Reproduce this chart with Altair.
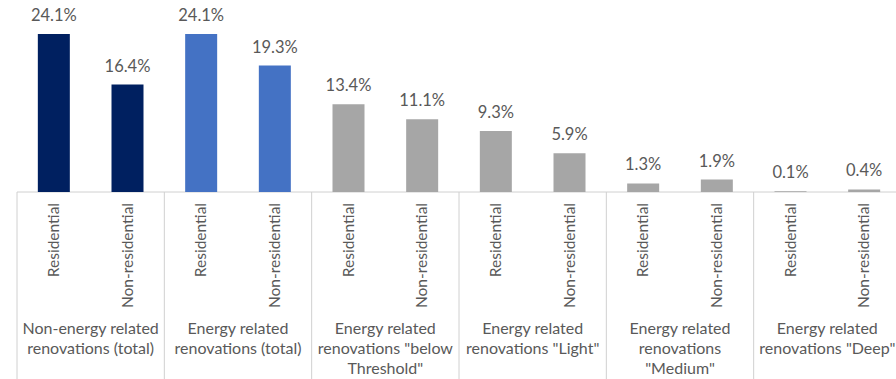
import altair as alt
import pandas as pd

group_labels = [
    "Non-energy related\nrenovations (total)",
    "Energy related\nrenovations (total)",
    'Energy related\nrenovations "below\nThreshold"',
    'Energy related\nrenovations "Light"',
    'Energy related\nrenovations\n"Medium"',
    'Energy related\nrenovations "Deep"',
]
building_types = ["Residential", "Non-residential"]
residential = [24.1, 24.1, 13.4, 9.3, 1.3, 0.1]
non_residential = [16.4, 19.3, 11.1, 5.9, 1.9, 0.4]
group_colors = ["#002060", "#4472C4", "#A6A6A6", "#A6A6A6", "#A6A6A6", "#A6A6A6"]

rows = []
for g, lab in enumerate(group_labels):
    for k, (bt, vals) in enumerate(zip(building_types, [residential, non_residential])):
        rows.append({
            "group": lab,
            "type": bt,
            "value": vals[g],
            "label": f"{vals[g]:.1f}%",
            "pos": g * 2 + 0.5 + k,
            "color": group_colors[g],
        })
bars = pd.DataFrame(rows)
groups = pd.DataFrame({"group": group_labels, "center": [g * 2 + 1 for g in range(len(group_labels))]})
dividers = pd.DataFrame({"edge": [g * 2 for g in range(len(group_labels) + 1)]})
axis_line = pd.DataFrame({"start": [0], "end": [2 * len(group_labels)]})

FONT = "Lato"
TXT = "#595959"
xs = alt.Scale(domain=[0, 12], range=[0, 894])
ys = alt.Scale(domain=[0, 29.3])

bar = alt.Chart(bars).mark_bar(size=32).encode(
    x=alt.X("pos:Q", scale=xs, axis=None),
    y=alt.Y("value:Q", scale=ys, axis=None),
    color=alt.Color("color:N", scale=None),
)
vlab = alt.Chart(bars).mark_text(font=FONT, fontSize=16.5, color=TXT, dy=-18, baseline="middle").encode(
    x=alt.X("pos:Q", scale=xs, axis=None),
    y=alt.Y("value:Q", scale=ys, axis=None),
    text="label:N",
)
tlab = alt.Chart(bars).mark_text(font=FONT, fontSize=15.5, color=TXT, angle=270, align="right", baseline="middle").encode(
    x=alt.X("pos:Q", scale=xs, axis=None),
    y=alt.value(203),
    text="type:N",
)
glab = alt.Chart(groups).mark_text(font=FONT, fontSize=16, color=TXT, lineBreak="\n", lineHeight=20, baseline="middle", align="center").encode(
    x=alt.X("center:Q", scale=xs, axis=None),
    y=alt.value(329),
    text="group:N",
)
div = alt.Chart(dividers).mark_rule(color="#D0D0D0", strokeWidth=1).encode(
    x=alt.X("edge:Q", scale=xs, axis=None),
    y=alt.value(192),
    y2=alt.value(379),
)
base = alt.Chart(axis_line).mark_rule(color="#D0D0D0", strokeWidth=1).encode(
    x=alt.X("start:Q", scale=xs, axis=None),
    x2="end:Q",
    y=alt.value(192),
)

chart = alt.layer(div, base, bar, vlab, tlab, glab).properties(
    width=884,
    height=192,
    autosize=alt.AutoSizeParams(type="none"),
    padding={"left": 12, "top": 0, "right": 0, "bottom": 187},
    background="white",
).configure_view(stroke=None)

chart.save("out.html", embed_options={"renderer": "svg", "actions": False})
